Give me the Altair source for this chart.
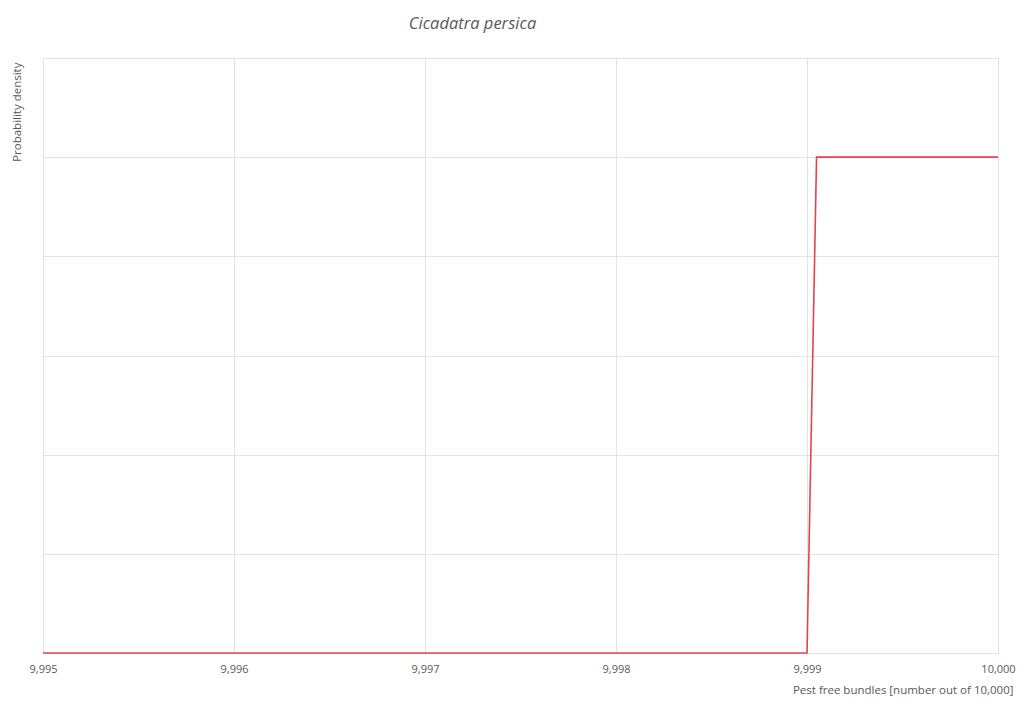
import altair as alt
import pandas as pd

x_vals = [9995, 9999, 9999.05, 10000]
density = [0, 0, 1.0, 1.0]
x_ticks = [9995, 9996, 9997, 9998, 9999, 10000]
y_ticks = [0, 0.2, 0.4, 0.6, 0.8, 1.0, 1.2]

df = pd.DataFrame({"x": x_vals, "y": density})

FONT = "Open Sans"
GRAY = "#595959"

chart = alt.Chart(df).mark_line(color="#e8414e", strokeWidth=1.6).encode(
    x=alt.X("x:Q",
            scale=alt.Scale(domain=[9995, 10000], nice=False, zero=False),
            axis=alt.Axis(values=x_ticks, format=",d", title="Pest free bundles [number out of 10,000]",
                          titleAnchor="end", titleAlign="right", titleX=970, titleY=37,
                          titleBaseline="middle",
                          titleFont=FONT, titleFontSize=11.5, titleFontWeight="normal", titleColor=GRAY,
                          labelFont=FONT, labelFontSize=11, labelColor=GRAY, labelPadding=10,
                          domain=False, ticks=False, grid=True, gridColor="#e3e3e3", gridWidth=1,
                          labelFlush=False)),
    y=alt.Y("y:Q",
            scale=alt.Scale(domain=[0, 1.2], nice=False),
            axis=alt.Axis(values=y_ticks, labels=False, ticks=False, domain=False,
                          title="Probability density", titleAnchor="end", titleAlign="right",
                          titleAngle=-90, titleX=-26, titleY=4, titleBaseline="middle",
                          titleFont=FONT, titleFontSize=11.5, titleFontWeight="normal", titleColor=GRAY,
                          grid=True, gridColor="#e3e3e3", gridWidth=1)),
).properties(
    width=955,
    height=595,
    title=alt.TitleParams("Cicadatra persica", font=FONT, fontSize=16.5, fontStyle="italic",
                          fontWeight="normal", color=GRAY, anchor="middle", dx=-48, offset=26),
    padding={"left": 35, "top": 50, "right": 19, "bottom": 48},
    autosize=alt.AutoSizeParams(type="none"),
).configure_view(stroke=None).configure(background="white")

chart.save("out.html", embed_options={"renderer": "svg", "actions": False})
